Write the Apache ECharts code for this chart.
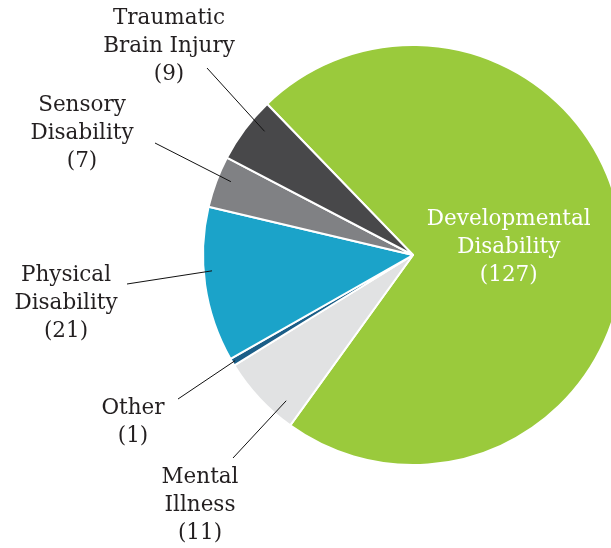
<!DOCTYPE html>
<html>
<head>
<meta charset="utf-8">
<script src="https://cdn.jsdelivr.net/npm/echarts@6/dist/echarts.min.js"></script>
<style>html,body{margin:0;padding:0;background:#fff;}#c{width:611px;height:548px;}</style>
</head>
<body>
<div id="c"></div>
<script>
// Data (clockwise from the top-left edge of the green slice)
const categories = ['Developmental Disability', 'Mental Illness', 'Other', 'Physical Disability', 'Sensory Disability', 'Traumatic Brain Injury'];
const values = [127, 11, 1, 21, 7, 9];
const colors = ['#9aca3c', '#e1e2e3', '#1b5e88', '#1ba3c9', '#808184', '#48484a'];

// Layout (label anchors, line ends in px, line start inset/rotation)
const CX = 413, CY = 255, R = 210;
const labelAnchor = [null, [200, 505], [133, 422], [66, 303], [82, 133], [169, 46]];
const lineEnd = [null, [233, 458], [178, 399], [127, 284], [155, 143], [207, 68]];
const lineInset = [0, 0.92, 0.985, 0.96, 0.935, 0.92];
const lineShiftDeg = [0, 6, 0, -3.7, -1.5, -3];

const chart = echarts.init(document.getElementById('c'), null, {renderer: 'canvas'});
const fontFamily = '"DejaVu Serif", serif';

const baseData = categories.map((name, i) => ({ name: name, value: values[i], itemStyle: { color: colors[i] } }));
const overlayData = categories.map((name, i) => {
  const d = { name: name, value: values[i] };
  if (i === 0) {
    d.label = { position: 'inside', color: '#ffffff', offset: [-12, 0] };
    d.labelLine = { show: false };
  }
  return d;
});

chart.setOption({
  backgroundColor: '#ffffff',
  animation: false,
  series: [{
    type: 'pie',
    z: 2,
    center: [CX, CY],
    radius: R,
    startAngle: 134,
    clockwise: true,
    silent: true,
    label: { show: false },
    labelLine: { show: false },
    itemStyle: { borderColor: '#ffffff', borderWidth: 2 },
    data: baseData
  }, {
    type: 'pie',
    z: 3,
    center: [CX, CY],
    radius: R,
    startAngle: 134,
    clockwise: true,
    silent: true,
    avoidLabelOverlap: false,
    itemStyle: { color: 'rgba(0,0,0,0)', borderWidth: 0 },
    label: {
      show: true,
      position: 'outside',
      fontFamily: fontFamily,
      fontSize: 21.5,
      lineHeight: 28,
      color: '#231f20',
      align: 'center',
      formatter: p => p.name.replace(' ', '\n') + '\n(' + p.value + ')'
    },
    labelLine: { show: true, lineStyle: { color: '#111', width: 1 } },
    labelLayout: function (params) {
      const i = params.dataIndex;
      if (!labelAnchor[i]) return {};
      const p0 = params.labelLinePoints ? params.labelLinePoints[0] : [CX - R, CY];
      const th0 = Math.atan2(-(p0[1] - CY), p0[0] - CX);
      const th = th0 + lineShiftDeg[i] * Math.PI / 180;
      const r = Math.hypot(p0[0] - CX, p0[1] - CY) * lineInset[i];
      const start = [CX + r * Math.cos(th), CY - r * Math.sin(th)];
      return {
        x: labelAnchor[i][0],
        y: labelAnchor[i][1],
        align: 'center',
        verticalAlign: 'middle',
        labelLinePoints: [start, lineEnd[i]]
      };
    },
    data: overlayData
  }]
});
</script>
</body>
</html>
